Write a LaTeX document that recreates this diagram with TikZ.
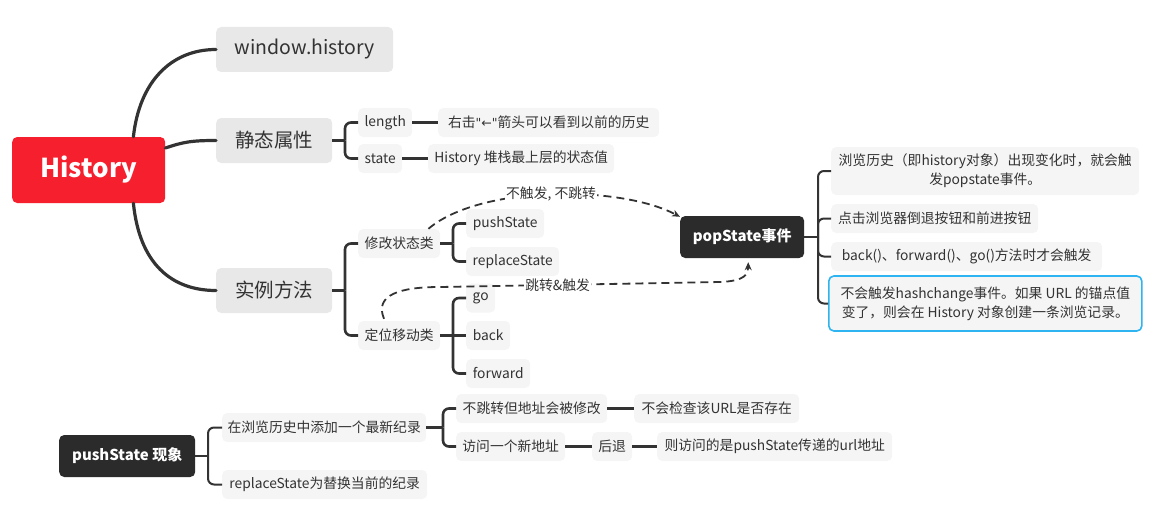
\documentclass[tikz,border=0pt]{standalone}
\usepackage{fontspec}
\setmainfont{Noto Sans CJK SC}
\newfontfamily\dejavu{DejaVu Sans}
\usetikzlibrary{arrows.meta,calc}
\definecolor{rootred}{HTML}{F61F2E}
\definecolor{mainfill}{HTML}{E8E8E8}
\definecolor{subfill}{HTML}{F5F5F5}
\definecolor{darkfill}{HTML}{2B2B2B}
\definecolor{linec}{HTML}{333333}
\definecolor{txt}{HTML}{333333}
\definecolor{bluebd}{HTML}{2EB4F0}
\newcommand\fsS{\fontsize{13.8}{19}\selectfont}
\newcommand\fsM{\fontsize{19.5}{24}\selectfont}
\begin{document}
\begin{tikzpicture}[x=1pt,y=-1pt,
  box/.style={rounded corners=5pt, inner sep=0pt, anchor=west, text=txt, align=center},
  rootbox/.style={box, fill=rootred, text=white, minimum width=153pt, minimum height=66pt, font=\fontsize{26}{30}\selectfont\bfseries},
  mainbox/.style={box, fill=mainfill, minimum height=45pt, minimum width=#1, font=\fsM},
  subbox/.style={box, fill=subfill, minimum height=29pt, minimum width=#1, font=\fsS},
  darkbox/.style={box, fill=darkfill, text=white, minimum height=42pt, minimum width=#1, font=\fontsize{15}{18}\selectfont\bfseries},
  trunk/.style={draw=linec, line width=3.2pt, line cap=round},
  br/.style={draw=linec, line width=2.6pt, rounded corners=6pt},
  brthin/.style={draw=linec, line width=2pt, rounded corners=6pt},
  dasharrow/.style={draw=linec, line width=1.8pt, dash pattern=on 8pt off 5pt, -{Stealth[length=8pt,width=7pt]}},
  lbl/.style={fill=white, inner sep=1pt, text=txt, font=\fsS}
]
\useasboundingbox (0,0) rectangle (1155,524);

% level 0 / 1
\node[rootbox] (root) at (12,170) {History};
\node[mainbox=177pt] (wh) at (216,49.5) {window.history};
\node[mainbox=116pt] (m1) at (216,140.5) {静态属性};
\node[mainbox=116pt] (m2) at (216,290.5) {实例方法};

% static props
\node[subbox=54pt] (len) at (358,122.5) {length};
\node[subbox=44pt] (st) at (358,158.5) {state};
\node[subbox=221pt] (lenD) at (438,122.5) {右击{\dejavu\fontsize{12.5}{19}\selectfont"←"}箭头可以看到以前的历史};
\node[subbox=186pt] (stD) at (428,158.5) {History 堆栈最上层的状态值};

% methods
\node[subbox=82pt] (ms) at (358,243.5) {修改状态类};
\node[subbox=82pt] (mp) at (358,335.5) {定位移动类};
\node[subbox=78pt] (push) at (466,223.5) {pushState};
\node[subbox=93pt] (repl) at (466,261.5) {replaceState};
\node[subbox=29pt] (go) at (466,298) {go};
\node[subbox=44pt] (back) at (466,335.5) {back};
\node[subbox=64pt] (fwd) at (466,373.5) {forward};

% popstate
\node[darkbox=124pt] (pop) at (680,237) {popState事件};
\node[subbox=308pt, minimum height=48pt] (c1) at (831,171) {浏览历史（即history对象）出现变化时，就会触\\发popstate事件。};
\node[subbox=207pt] (c2) at (831,218.5) {点击浏览器倒退按钮和前进按钮};
\node[subbox=271pt] (c3) at (831,256.5) {back()、forward()、go()方法时才会触发};
\node[subbox=313pt, minimum height=55pt, draw=bluebd, line width=1.6pt] (c4) at (828,303.5) {不会触发hashchange事件。如果 URL 的锚点值\\变了，则会在 History 对象创建一条浏览记录。};

% pushState phenomenon
\node[darkbox=136pt] (ps) at (59,456) {pushState 现象};
\node[subbox=204pt] (a1) at (222,427.5) {在浏览历史中添加一个最新纪录};
\node[subbox=205pt] (a2) at (222,484.5) {replaceState为替换当前的纪录};
\node[subbox=151pt] (b1) at (456,408.5) {不跳转但地址会被修改};
\node[subbox=109pt] (b2) at (456,446.5) {访问一个新地址};
\node[subbox=165pt] (b3) at (634,408.5) {不会检查该URL是否存在};
\node[subbox=40pt] (b4) at (592,446.5) {后退};
\node[subbox=235pt] (b5) at (657,446.5) {则访问的是pushState传递的url地址};

% junctions
\coordinate (j1) at (345,140.5);
\coordinate (j2) at (345,290.5);
\coordinate (j3) at (453,243.5);
\coordinate (j4) at (453,335.5);
\coordinate (j5) at (818,237);
\coordinate (j6) at (208,456);
\coordinate (j7) at (443,427.5);

% root curves
\draw[trunk] ([xshift=-32pt]root.north east) .. controls +(6,-55) and +(-45,0) .. (wh.west);
\draw[trunk] ($(root.east)+(0,-22)$) .. controls +(18,-6) and +(-25,0) .. (m1.west);
\draw[trunk] ([xshift=-32pt]root.south east) .. controls +(6,60) and +(-45,0) .. (m2.west);

% brackets
\draw[br] (m1.east) -- (j1);
\draw[br] (j1) |- (len.west);
\draw[br] (j1) |- (st.west);
\draw[br] (len.east) -- (lenD.west);
\draw[br] (st.east) -- (stD.west);

\draw[br] (m2.east) -- (j2);
\draw[br] (j2) |- (ms.west);
\draw[br] (j2) |- (mp.west);
\draw[br] (ms.east) -- (j3);
\draw[br] (j3) |- (push.west);
\draw[br] (j3) |- (repl.west);
\draw[br] (mp.east) -- (j4);
\draw[br] (j4) |- (go.west);
\draw[br] (j4) -- (back.west);
\draw[br] (j4) |- (fwd.west);

\draw[brthin] (pop.east) -- (j5);
\draw[brthin] (j5) |- (c1.west);
\draw[brthin] (j5) |- (c2.west);
\draw[brthin] (j5) |- (c3.west);
\draw[brthin] (j5) |- (c4.west);

\draw[brthin] (ps.east) -- (j6);
\draw[brthin] (j6) |- (a1.west);
\draw[brthin] (j6) |- (a2.west);
\draw[br] (a1.east) -- (j7);
\draw[br] (j7) |- (b1.west);
\draw[br] (j7) |- (b2.west);
\draw[br] (b1.east) -- (b3.west);
\draw[br] (b2.east) -- (b4.west);
\draw[br] (b4.east) -- (b5.west);

% dashed arrows
\draw[dasharrow] ([xshift=-12pt]ms.north east) .. controls (480,185) and (620,185) .. node[lbl, pos=0.5] {不触发, 不跳转} ([yshift=-1pt]pop.north west);
\draw[dasharrow] ([xshift=26pt,yshift=2pt]mp.north west) .. controls +(-10,-24) and +(-40,0) .. (440,287) -- node[lbl, pos=0.42] {跳转\&触发} (720,282) .. controls +(25,-1) and +(0,12) .. ([xshift=6pt,yshift=-4pt]pop.south);
\end{tikzpicture}
\end{document}
